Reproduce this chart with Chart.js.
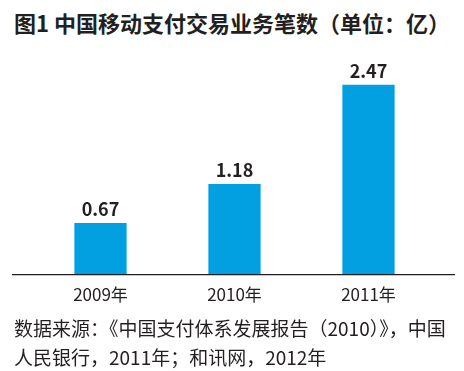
<!DOCTYPE html>
<html lang="zh">
<head>
<meta charset="UTF-8">
<title>中国移动支付交易业务笔数</title>
<script src="https://cdn.jsdelivr.net/npm/chart.js"></script>
<style>
  html, body { margin: 0; padding: 0; background: #fff; }
  #wrap { position: relative; width: 464px; height: 371px; overflow: hidden; font-family: "Noto Sans CJK SC", "Noto Sans", sans-serif; color: #231f20; }
  #title { position: absolute; left: 14px; top: 7px; font-size: 22px; font-weight: bold; line-height: 30px; white-space: nowrap; }
  #chartBox { position: absolute; left: 0; top: 0; width: 464px; height: 315px; }
  #source { position: absolute; left: 14px; top: 313px; font-size: 19px; line-height: 29px; white-space: nowrap; }
</style>
</head>
<body>
<div id="wrap">
  <div id="title">图1 中国移动支付交易业务笔数（单位：亿）</div>
  <div id="chartBox"><canvas id="payChart"></canvas></div>
  <div id="source">数据来源：《中国支付体系发展报告（2010）》，中国<br>人民银行，2011年；和讯网，2012年</div>
</div>
<script>
// 数据
const years = ["2009年", "2010年", "2011年"];
const counts = [0.67, 1.18, 2.47];

// 柱顶数值
const valueLabels = {
  id: "valueLabels",
  afterDatasetsDraw(chart) {
    const ctx = chart.ctx;
    const meta = chart.getDatasetMeta(0);
    ctx.save();
    ctx.font = "bold 18px 'Noto Sans CJK SC', sans-serif";
    ctx.fillStyle = "#231f20";
    ctx.textAlign = "center";
    ctx.textBaseline = "middle";
    meta.data.forEach((bar, i) => {
      ctx.fillText(counts[i].toFixed(2), bar.x, bar.y - 14);
    });
    ctx.restore();
  }
};

// 底部横线
const baseLine = {
  id: "baseLine",
  afterDatasetsDraw(chart) {
    const ctx = chart.ctx;
    const y = chart.chartArea.bottom;
    ctx.save();
    ctx.strokeStyle = "#231f20";
    ctx.lineWidth = 1.2;
    ctx.beginPath();
    ctx.moveTo(12, y);
    ctx.lineTo(455, y);
    ctx.stroke();
    ctx.restore();
  }
};

new Chart(document.getElementById("payChart").getContext("2d"), {
  type: "bar",
  data: {
    labels: years,
    datasets: [{
      data: counts,
      backgroundColor: "#02a0e0",
      barPercentage: 0.39,
      categoryPercentage: 1
    }]
  },
  options: {
    responsive: true,
    maintainAspectRatio: false,
    animation: false,
    layout: { padding: { top: 44, left: 33.5, right: 28.5, bottom: 0 } },
    plugins: { legend: { display: false }, tooltip: { enabled: false } },
    scales: {
      x: {
        grid: { display: false, drawTicks: false },
        border: { display: false },
        ticks: { color: "#231f20", padding: 10, font: { size: 17, family: "'Noto Sans CJK SC', sans-serif" } }
      },
      y: { display: false, min: 0, max: 3 }
    }
  },
  plugins: [valueLabels, baseLine]
});
</script>
</body>
</html>
